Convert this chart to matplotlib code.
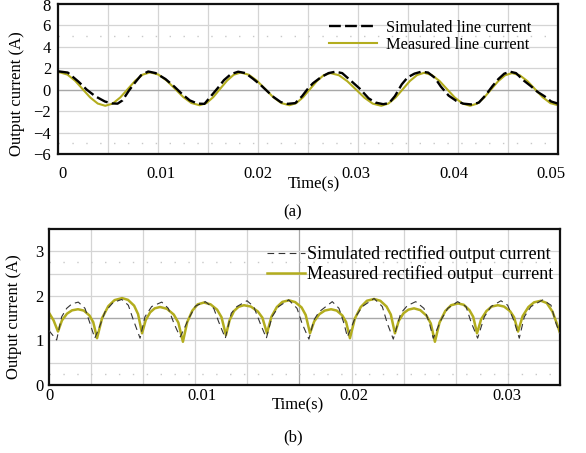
import matplotlib
matplotlib.use('Agg')
import matplotlib.pyplot as plt
import numpy as np

plt.rcParams['font.family'] = ['Liberation Serif', 'DejaVu Serif']

# ---------------- data (a): line current, time in ms ----------------
t_meas_a = [-0.5, -0.3, 0.47, 1.25, 2.02, 2.79, 3.57, 4.34, 5.11, 5.88, 6.65, 7.41, 8.18, 8.95,
            9.79, 10.63, 11.48, 12.32, 13.16, 14.0, 14.70, 15.40, 16.10, 16.80, 17.50, 18.2,
            19.03, 19.87, 20.70, 21.53, 22.37, 23.2, 23.90, 24.60, 25.30, 26.00, 26.70, 27.4,
            28.27, 29.13, 30.0, 30.87, 31.73, 32.6, 33.33, 34.07, 34.80, 35.53, 36.27, 37.0,
            37.78, 38.57, 39.35, 40.13, 40.92, 41.7, 42.42, 43.13, 43.85, 44.57, 45.28, 46.0,
            46.78, 47.57, 48.35, 49.13, 49.92, 50.7]
v_meas_a = [1.61, 1.62, 1.41, 0.84, 0.06, -0.72, -1.29, -1.50, -1.29, -0.72, 0.06, 0.84, 1.41, 1.62,
            1.41, 0.85, 0.09, -0.68, -1.24, -1.45, -1.25, -0.69, 0.08, 0.84, 1.40, 1.60,
            1.40, 0.84, 0.08, -0.69, -1.25, -1.45, -1.25, -0.70, 0.05, 0.80, 1.35, 1.55,
            1.35, 0.79, 0.03, -0.74, -1.30, -1.50, -1.29, -0.73, 0.04, 0.81, 1.37, 1.58,
            1.37, 0.81, 0.04, -0.73, -1.29, -1.50, -1.30, -0.74, 0.03, 0.79, 1.35, 1.55,
            1.35, 0.80, 0.05, -0.70, -1.25, -1.45]

t_sim_a = [-0.5, 0.5, 1.6, 2.45, 3.3, 4.3, 5.0, 5.6, 6.1, 6.75,
           7.4, 8.0, 8.74, 9.5, 10.5, 11.4, 12.2, 13.0, 13.8, 14.5,
           15.3, 15.9, 16.5, 17.2, 17.95, 18.7, 19.5, 20.3, 21.0, 21.6,
           22.3, 23.0, 23.8, 24.5, 25.0, 25.6, 26.4, 27.2, 27.9, 28.6,
           29.6, 30.4, 31.3, 32.0, 32.8, 33.4, 34.0, 34.7, 35.3, 36.0,
           36.7, 37.4, 38.1, 38.7, 39.5, 40.3, 41.0, 41.9, 42.6, 43.3,
           44.0, 44.6, 45.2, 45.8, 46.4, 47.2, 47.9, 48.6, 49.3, 50.0,
           50.7]
v_sim_a = [1.72, 1.6, 0.75, 0.0, -0.6, -1.1, -1.28, -1.3, -1.0, -0.1,
           0.68, 1.35, 1.7, 1.55, 1.0, 0.3, -0.4, -1.0, -1.3, -1.32,
           -0.45, 0.2, 0.9, 1.45, 1.68, 1.55, 1.0, 0.4, -0.2, -0.7,
           -1.15, -1.32, -1.25, -0.6, 0.0, 0.6, 1.15, 1.55, 1.68, 1.55,
           0.75, 0.1, -0.8, -1.2, -1.35, -1.25, -0.6, 0.5, 1.15, 1.5,
           1.68, 1.6, 1.1, 0.3, -0.55, -1.05, -1.3, -1.38, -1.2, -0.5,
           0.35, 1.0, 1.5, 1.68, 1.55, 0.85, 0.35, -0.2, -0.6, -1.1,
           -1.3]

xticks_a = [0, 0.01, 0.02, 0.03, 0.04, 0.05]
xticklabels_a = ['0', '0.01', '0.02', '0.03', '0.04', '0.05']
yticks_a = [-6, -4, -2, 0, 2, 4, 6]
ytop_a = 8

# ---------------- data (b): rectified current, time in ms ----------------
t_meas_b = [0.0, 0.30,
            0.59, 0.85, 1.18, 1.51, 1.90, 2.28, 2.65, 2.90, 3.15,
            3.48, 3.89, 4.30, 4.79, 5.18, 5.58, 5.84, 6.10,
            6.34, 6.63, 6.93, 7.28, 7.73, 8.18, 8.48, 8.78,
            9.06, 9.40, 9.75, 10.16, 10.59, 11.02, 11.31, 11.60,
            11.84, 12.13, 12.43, 12.78, 13.23, 13.69, 13.99, 14.29,
            14.58, 14.94, 15.30, 15.73, 16.14, 16.56, 16.83, 17.11,
            17.39, 17.73, 18.08, 18.49, 18.86, 19.23, 19.48, 19.73,
            20.05, 20.44, 20.84, 21.31, 21.72, 22.13, 22.41, 22.68,
            22.93, 23.24, 23.56, 23.93, 24.34, 24.75, 25.03, 25.30,
            25.60, 25.98, 26.36, 26.81, 27.19, 27.56, 27.81, 28.06,
            28.33, 28.68, 29.02, 29.43, 29.83, 30.22, 30.49, 30.75,
            31.05, 31.43, 31.80, 32.25, 32.63, 33.0, 33.25, 33.5]
v_meas_b = [1.62, 1.45,
            1.20, 1.45, 1.60, 1.675, 1.70, 1.67, 1.56, 1.41, 1.05,
            1.50, 1.77, 1.905, 1.95, 1.91, 1.78, 1.59, 1.16,
            1.455, 1.63, 1.72, 1.75, 1.71, 1.58, 1.40, 0.97,
            1.41, 1.67, 1.81, 1.85, 1.81, 1.69, 1.52, 1.12,
            1.455, 1.66, 1.755, 1.79, 1.76, 1.65, 1.51, 1.16,
            1.53, 1.75, 1.865, 1.90, 1.86, 1.74, 1.57, 1.16,
            1.43, 1.59, 1.67, 1.70, 1.67, 1.56, 1.41, 1.05,
            1.49, 1.75, 1.89, 1.93, 1.89, 1.76, 1.58, 1.16,
            1.44, 1.61, 1.69, 1.72, 1.68, 1.555, 1.38, 0.97,
            1.40, 1.66, 1.79, 1.83, 1.80, 1.68, 1.53, 1.16,
            1.475, 1.66, 1.76, 1.79, 1.76, 1.66, 1.52, 1.20,
            1.545, 1.75, 1.855, 1.89, 1.84, 1.65, 1.42, 1.17]

t_sim_b = [0.0, 0.50, 0.83, 1.16, 1.50, 1.92, 2.36, 2.69, 3.0,
           3.25, 3.67, 4.2, 4.77, 5.2, 5.53, 5.97,
           6.29, 6.73, 7.39, 7.82, 8.15, 8.39, 8.61,
           9.16, 9.6, 10.25, 10.8, 11.12, 11.56,
           11.95, 12.32, 12.98, 13.42, 13.85, 14.25,
           14.62, 15.06, 15.71, 16.26, 16.59, 17.04,
           17.37, 17.70, 18.57, 19.01, 19.34, 19.56,
           20.1, 20.54, 21.31, 21.85, 22.18, 22.57,
           23.06, 23.49, 24.04, 24.58, 24.91, 25.19,
           25.7, 26.14, 26.79, 27.34, 27.66, 28.1,
           28.54, 28.98, 29.63, 30.07, 30.5, 30.83,
           31.16, 31.6, 32.37, 32.91, 33.24, 33.5]
v_sim_b = [1.22, 1.01, 1.53, 1.72, 1.82, 1.86, 1.72, 1.38, 1.05,
           1.25, 1.64, 1.85, 1.92, 1.79, 1.46, 1.05,
           1.53, 1.76, 1.86, 1.72, 1.42, 1.23, 1.08,
           1.49, 1.77, 1.87, 1.72, 1.42, 1.05,
           1.61, 1.76, 1.89, 1.76, 1.38, 1.05,
           1.53, 1.76, 1.91, 1.72, 1.38, 1.03,
           1.46, 1.64, 1.87, 1.72, 1.38, 1.08,
           1.53, 1.76, 1.94, 1.76, 1.38, 1.03,
           1.61, 1.78, 1.87, 1.72, 1.42, 1.05,
           1.46, 1.72, 1.87, 1.76, 1.42, 1.05,
           1.53, 1.76, 1.89, 1.79, 1.42, 1.05,
           1.53, 1.76, 1.91, 1.79, 1.38, 1.15]

xticks_b = [0, 0.01, 0.02, 0.03]
xticklabels_b = ['0', '0.01', '0.02', '0.03']
yticks_b = [0, 1, 2, 3]

labels_a = ['Simulated line current', 'Measured line current']
labels_b = ['Simulated rectified output current', 'Measured rectified output  current']

YEL = '#b3ad1e'
GRID = '#d4d4d4'
GRID_DARK = '#a8a8a8'

fig = plt.figure(figsize=(5.86, 4.53), dpi=100)
W, H = 586.0, 453.0
ax1 = fig.add_axes([58 / W, 1 - 154 / H, 500 / W, 150 / H])
ax2 = fig.add_axes([49 / W, 1 - 385 / H, 511 / W, 156 / H])


def style_axes(ax, xlim, ylim, vfracs, dark_v, hsolid, hdark, hdots):
    ax.set_xlim(*xlim)
    ax.set_ylim(*ylim)
    for f in vfracs:
        x = xlim[0] + f * (xlim[1] - xlim[0])
        c = GRID_DARK if (dark_v is not None and abs(f - dark_v) < 1e-6) else GRID
        ax.axvline(x, color=c, lw=0.9, zorder=0)
    for y in hsolid:
        ax.axhline(y, color=GRID, lw=0.9, zorder=0)
    ax.axhline(hdark, color=GRID_DARK, lw=1.0, zorder=0)
    for y in hdots:
        ax.axhline(y, color='#c8c8c8', lw=1.0, ls=(0, (1, 9)), zorder=0)
    for s in ax.spines.values():
        s.set_linewidth(1.6)
        s.set_color('#111111')
    ax.tick_params(length=0)


# ---- (a)
xlim_a = (-0.0005, 0.0507)
style_axes(ax1, xlim_a, (-6, 8), [0.1 * k for k in range(1, 10)], None,
           [-4, -2, 2, 4, 6], 0, [-5, 5])
ax1.plot(np.array(t_sim_a) / 1000, v_sim_a, color='black', lw=1.7,
         dashes=(5.0, 1.8), label=labels_a[0], zorder=3)
ax1.plot(np.array(t_meas_a) / 1000, v_meas_a, color=YEL, lw=1.5,
         label=labels_a[1], zorder=2)
ax1.set_xticks(xticks_a)
ax1.set_xticklabels(xticklabels_a)
ax1.set_yticks(yticks_a)
ax1.tick_params(axis='x', pad=9, labelsize=12)
ax1.tick_params(axis='y', pad=5, labelsize=12)
# top tick label kept fully inside the figure
ax1.annotate(str(ytop_a), xy=(0, 1), xycoords='axes fraction', xytext=(-5, 3.5),
             textcoords='offset points', ha='right', va='top', fontsize=12)
ax1.set_ylabel('Output current (A)', fontsize=12)
ax1.yaxis.set_label_coords(-0.066, 0.40)
ax1.set_xlabel('Time(s)', fontsize=12)
ax1.xaxis.set_label_coords((314 - 58) / 500, -(176 - 154) / 150)
leg1 = ax1.legend(loc='upper left', bbox_to_anchor=((329 - 58) / 500, (154 - 20) / 150),
                  frameon=False, fontsize=11.8, handlelength=2.9, handletextpad=0.6,
                  borderpad=0, borderaxespad=0, labelspacing=0.05)

# ---- (b)
xlim_b = (0.0, 0.0335)
style_axes(ax2, xlim_b, (0, 3.5), [1 - 0.102 * k for k in range(1, 10)], 1 - 0.102 * 5,
           [0.5, 1, 2, 2.5, 3], 1.5, [0.25, 2.75])
ax2.plot(np.array(t_sim_b) / 1000, v_sim_b, color='#333333', lw=0.8,
         dashes=(6, 4), label=labels_b[0], zorder=3)
ax2.plot(np.array(t_meas_b) / 1000, v_meas_b, color=YEL, lw=1.8,
         label=labels_b[1], zorder=2)
ax2.set_xticks(xticks_b)
ax2.set_xticklabels(xticklabels_b)
ax2.set_yticks(yticks_b)
ax2.tick_params(axis='x', pad=2, labelsize=12)
ax2.tick_params(axis='y', pad=4, labelsize=12)
ax2.set_ylabel('Output current (A)', fontsize=12)
ax2.yaxis.set_label_coords(-0.053, 0.44)
ax2.set_xlabel('Time(s)', fontsize=12)
ax2.xaxis.set_label_coords((298 - 49) / 511, -(397 - 385) / 156)
leg2 = ax2.legend(loc='upper left', bbox_to_anchor=((267 - 49) / 511, (385 - 245) / 156),
                  frameon=False, fontsize=13, handlelength=2.1, handletextpad=0.1,
                  borderpad=0, borderaxespad=0, labelspacing=0.15)

fig.text(293 / W, 1 - 212 / H, '(a)', ha='center', va='center', fontsize=12)
fig.text(293 / W, 1 - 437 / H, '(b)', ha='center', va='center', fontsize=12)

fig.savefig('out.png', dpi=100)
